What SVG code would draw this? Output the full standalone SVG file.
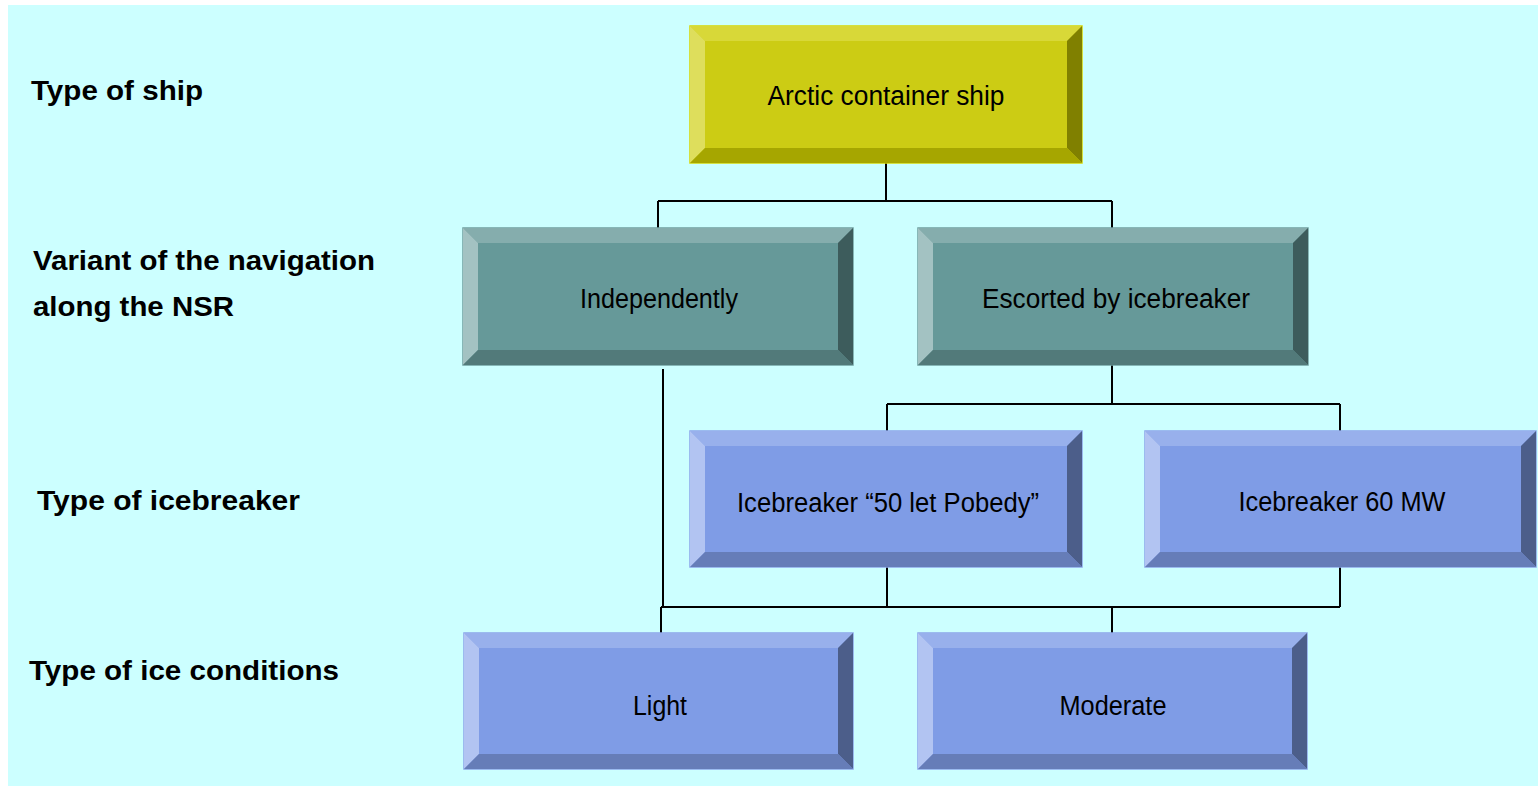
<svg xmlns="http://www.w3.org/2000/svg" width="1538" height="786" viewBox="0 0 1538 786">
<style>
.bg{fill:#CCFFFF}
.lbl{font-family:"Liberation Sans",Arial,sans-serif;font-weight:bold;font-size:28px;fill:#000}
.txt{font-family:"Liberation Sans",Arial,sans-serif;font-size:27px;fill:#000;text-anchor:middle}
.conn{stroke:#000;stroke-width:2;fill:none}
.y .face{fill:#CCCC14;stroke:#D6D600;stroke-width:1.5}
.y .t{fill:#D8D838}.y .l{fill:#DEDE5C}.y .r{fill:#808000}.y .b{fill:#A6A600}
.g .face{fill:#669999;stroke:#6FA0A0;stroke-width:1.5}
.g .t{fill:#85ADAD}.g .l{fill:#A3C2C2}.g .r{fill:#3D5C5C}.g .b{fill:#527A7A}
.u .face{fill:#7F9CE6;stroke:#8AA5EA;stroke-width:1.5}
.u .t{fill:#98B0EC}.u .l{fill:#B2C4F2}.u .r{fill:#4C5E8A}.u .b{fill:#667DB8}
</style>
<rect class="bg" x="8" y="5" width="1530" height="781"/>

<g id="labels">
<text class="lbl" x="31" y="100" textLength="172" lengthAdjust="spacingAndGlyphs">Type of ship</text>
<text class="lbl" x="33" y="270" textLength="342" lengthAdjust="spacingAndGlyphs">Variant of the navigation</text>
<text class="lbl" x="33" y="316" textLength="201" lengthAdjust="spacingAndGlyphs">along the NSR</text>
<text class="lbl" x="37" y="510" textLength="263" lengthAdjust="spacingAndGlyphs">Type of icebreaker</text>
<text class="lbl" x="29" y="680" textLength="310" lengthAdjust="spacingAndGlyphs">Type of ice conditions</text>
</g>

<g id="connectors" class="conn">
<path d="M886,163 V201 M658,201 H1112 M658,201 V228 M1112,201 V228"/>
<path d="M1112,365 V404 M887,404 H1340 M887,404 V431 M1340,404 V431"/>
<path d="M663,369 V607 M887,567 V607 M1340,567 V607 M661,607 H1340 M661,607 V633 M1112,607 V633"/>
</g>

<g id="n1" class="y">
<rect class="face" x="690" y="26" width="392" height="137"/>
<polygon class="t" points="690,26 1082,26 1067,41 705,41"/>
<polygon class="l" points="690,26 705,41 705,148 690,163"/>
<polygon class="r" points="1082,26 1082,163 1067,148 1067,41"/>
<polygon class="b" points="690,163 1082,163 1067,148 705,148"/>
<text class="txt" x="886" y="105" textLength="237" lengthAdjust="spacingAndGlyphs">Arctic container ship</text>
</g>

<g id="n2" class="g">
<rect class="face" x="463" y="228" width="390" height="137"/>
<polygon class="t" points="463,228 853,228 838,243 478,243"/>
<polygon class="l" points="463,228 478,243 478,350 463,365"/>
<polygon class="r" points="853,228 853,365 838,350 838,243"/>
<polygon class="b" points="463,365 853,365 838,350 478,350"/>
<text class="txt" x="659" y="308" textLength="158" lengthAdjust="spacingAndGlyphs">Independently</text>
</g>

<g id="n3" class="g">
<rect class="face" x="918" y="228" width="390" height="137"/>
<polygon class="t" points="918,228 1308,228 1293,243 933,243"/>
<polygon class="l" points="918,228 933,243 933,350 918,365"/>
<polygon class="r" points="1308,228 1308,365 1293,350 1293,243"/>
<polygon class="b" points="918,365 1308,365 1293,350 933,350"/>
<text class="txt" x="1116" y="308" textLength="268" lengthAdjust="spacingAndGlyphs">Escorted by icebreaker</text>
</g>

<g id="n4" class="u">
<rect class="face" x="690" y="431" width="392" height="136"/>
<polygon class="t" points="690,431 1082,431 1067,446 705,446"/>
<polygon class="l" points="690,431 705,446 705,552 690,567"/>
<polygon class="r" points="1082,431 1082,567 1067,552 1067,446"/>
<polygon class="b" points="690,567 1082,567 1067,552 705,552"/>
<text class="txt" x="888" y="512" textLength="302" lengthAdjust="spacingAndGlyphs">Icebreaker “50 let Pobedy”</text>
</g>

<g id="n5" class="u">
<rect class="face" x="1145" y="431" width="391" height="136"/>
<polygon class="t" points="1145,431 1536,431 1521,446 1160,446"/>
<polygon class="l" points="1145,431 1160,446 1160,552 1145,567"/>
<polygon class="r" points="1536,431 1536,567 1521,552 1521,446"/>
<polygon class="b" points="1145,567 1536,567 1521,552 1160,552"/>
<text class="txt" x="1342" y="511" textLength="207" lengthAdjust="spacingAndGlyphs">Icebreaker 60 MW</text>
</g>

<g id="n6" class="u">
<rect class="face" x="464" y="633" width="389" height="136"/>
<polygon class="t" points="464,633 853,633 838,648 479,648"/>
<polygon class="l" points="464,633 479,648 479,754 464,769"/>
<polygon class="r" points="853,633 853,769 838,754 838,648"/>
<polygon class="b" points="464,769 853,769 838,754 479,754"/>
<text class="txt" x="660" y="715" textLength="54" lengthAdjust="spacingAndGlyphs">Light</text>
</g>

<g id="n7" class="u">
<rect class="face" x="918" y="633" width="389" height="136"/>
<polygon class="t" points="918,633 1307,633 1292,648 933,648"/>
<polygon class="l" points="918,633 933,648 933,754 918,769"/>
<polygon class="r" points="1307,633 1307,769 1292,754 1292,648"/>
<polygon class="b" points="918,769 1307,769 1292,754 933,754"/>
<text class="txt" x="1113" y="715" textLength="107" lengthAdjust="spacingAndGlyphs">Moderate</text>
</g>
</svg>
